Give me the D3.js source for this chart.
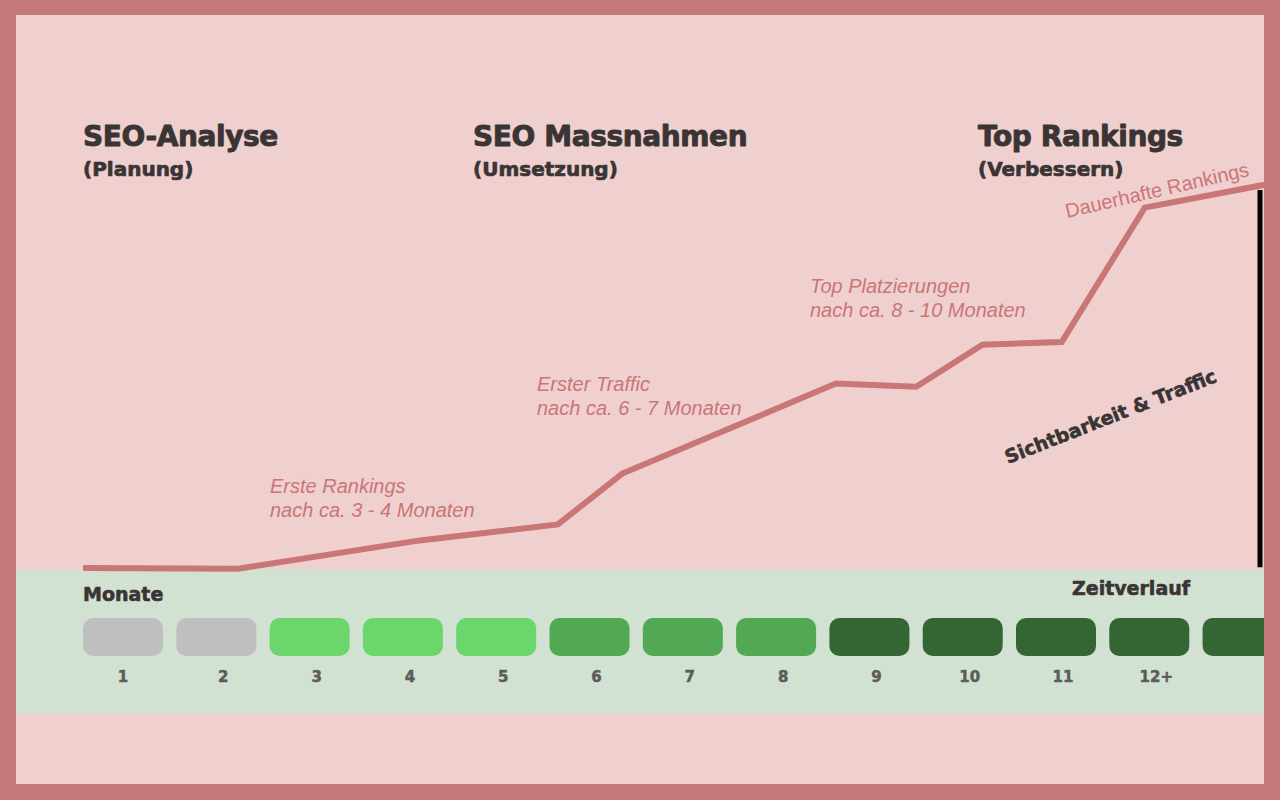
<!DOCTYPE html>
<html>
<head>
<meta charset="utf-8">
<script src="https://cdn.jsdelivr.net/npm/d3@7"></script>
<style>
  html, body { margin: 0; padding: 0; background: #c47a7a; }
  svg { display: block; }
</style>
</head>
<body>
<svg id="chart" width="1280" height="800"></svg>
<script>
// months shown as boxes in the time band
const months = [1, 2, 3, 4, 5, 6, 7, 8, 9, 10, 11, 12, 13]
const monthLabels = ['1', '2', '3', '4', '5', '6', '7', '8', '9', '10', '11', '12+', '']
const monthPhase = ['grau', 'grau', 'hell', 'hell', 'hell', 'mittel', 'mittel', 'mittel', 'dunkel', 'dunkel', 'dunkel', 'dunkel', 'dunkel']

// visibility curve: position in months, visibility 0..100
const curveMonth = [1.0, 2.66, 4.61, 6.09, 6.78, 9.07, 9.93, 10.64, 11.49, 12.38, 13.66]
const curveValue = [0, -0.2, 6.9, 10.9, 23.6, 46.1, 45.3, 55.8, 56.5, 90.1, 95.8]

const phases = [
  { title: 'SEO-Analyse', sub: '(Planung)', x: 83 },
  { title: 'SEO Massnahmen', sub: '(Umsetzung)', x: 473 },
  { title: 'Top Rankings', sub: '(Verbessern)', x: 978 }
]
const notes = [
  { lines: ['Erste Rankings', 'nach ca. 3 - 4 Monaten'], x: 270, y: 493 },
  { lines: ['Erster Traffic', 'nach ca. 6 - 7 Monaten'], x: 537, y: 391 },
  { lines: ['Top Platzierungen', 'nach ca. 8 - 10 Monaten'], x: 810, y: 293 }
]

const W = 1280, H = 800
const inner = { left: 16, top: 15, right: 1264, bottom: 784 }
const band = { top: 569, bottom: 713 }

const colors = {
  border: '#c47a7a',
  bg: '#f0d0cf',
  band: '#d2e2d2',
  line: '#c87676',
  dark: '#3a3434',
  num: '#5c5c5c',
  grau: '#bfbfbf',
  hell: '#6bd66b',
  mittel: '#53a853',
  dunkel: '#336633'
}

const svg = d3.select('#chart')
const headFont = '"DejaVu Sans", Verdana, sans-serif'
const noteFont = '"Liberation Sans", Arial, sans-serif'

// heavy label helper (DejaVu bold + thin outline to get close to the extra-bold look)
function heavy(sel, size, color, extra) {
  sel.attr('font-family', headFont)
    .attr('font-weight', 'bold')
    .attr('font-size', size)
    .attr('fill', color)
    .attr('stroke', color)
    .attr('stroke-width', extra)
    .attr('stroke-linejoin', 'round')
  return sel
}

svg.append('rect').attr('width', W).attr('height', H).attr('fill', colors.border)
svg.append('rect')
  .attr('x', inner.left).attr('y', inner.top)
  .attr('width', inner.right - inner.left).attr('height', inner.bottom - inner.top)
  .attr('fill', colors.bg)

svg.append('rect')
  .attr('x', inner.left).attr('y', band.top)
  .attr('width', inner.right - inner.left).attr('height', band.bottom - band.top)
  .attr('fill', colors.band)

const step = 93.3
const xBand = d3.scaleBand()
  .domain(months)
  .range([83, 83 + step * (months.length - 0.1425)])
  .paddingInner(0.1425)
  .paddingOuter(0)

const xMonth = d3.scaleLinear().domain([1, 14]).range([83, 83 + step * 13])
const y = d3.scaleLinear().domain([0, 100]).range([568, 168])

const clip = svg.append('clipPath').attr('id', 'innerClip')
clip.append('rect')
  .attr('x', inner.left).attr('y', inner.top)
  .attr('width', inner.right - inner.left).attr('height', inner.bottom - inner.top)

const plot = svg.append('g').attr('clip-path', 'url(#innerClip)')

// month boxes
plot.selectAll('rect.month')
  .data(months)
  .join('rect')
  .attr('class', 'month')
  .attr('x', d => xBand(d))
  .attr('y', 618)
  .attr('width', xBand.bandwidth())
  .attr('height', 38)
  .attr('rx', 10)
  .attr('fill', (d, i) => colors[monthPhase[i]])

heavy(plot.selectAll('text.month-label')
  .data(months)
  .join('text')
  .attr('class', 'month-label')
  .attr('x', d => xBand(d) + xBand.bandwidth() / 2 + (d === 1 ? 0 : 7))
  .attr('y', 682)
  .attr('text-anchor', 'middle'), 15, colors.num, 0.5)
  .text((d, i) => monthLabels[i])

heavy(plot.append('text').attr('x', 83).attr('y', 601), 19, colors.dark, 0.6)
  .text('Monate')

heavy(plot.append('text').attr('x', 1190).attr('y', 595).attr('text-anchor', 'end'), 19, colors.dark, 0.6)
  .text('Zeitverlauf')

// right axis bar
plot.append('line')
  .attr('x1', 1260).attr('x2', 1260)
  .attr('y1', y(94.5)).attr('y2', y(0.2))
  .attr('stroke', '#000').attr('stroke-width', 5)

// visibility curve
const pts = curveMonth.map((m, i) => [m, curveValue[i]])
plot.append('path')
  .datum(pts)
  .attr('fill', 'none')
  .attr('stroke', colors.line)
  .attr('stroke-width', 6)
  .attr('stroke-linejoin', 'miter')
  .attr('d', d3.line().x(d => xMonth(d[0])).y(d => y(d[1])))

// phase headings
const ph = plot.selectAll('g.phase').data(phases).join('g').attr('class', 'phase')
heavy(ph.append('text').attr('x', d => d.x).attr('y', 146), 28, colors.dark, 0.9)
  .attr('letter-spacing', -0.4)
  .text(d => d.title)
heavy(ph.append('text').attr('x', d => d.x).attr('y', 176), 20, colors.dark, 0.7)
  .text(d => d.sub)

// notes along the curve
const nt = plot.selectAll('text.note').data(notes).join('text')
  .attr('class', 'note')
  .attr('font-family', noteFont).attr('font-style', 'italic').attr('font-size', 20)
  .attr('fill', colors.line)
nt.selectAll('tspan').data(d => d.lines.map((l, i) => ({ l, i, x: d.x, y: d.y })))
  .join('tspan')
  .attr('x', d => d.x).attr('y', d => d.y + d.i * 24)
  .text(d => d.l)

plot.append('text')
  .attr('transform', 'translate(1067,218) rotate(-13)')
  .attr('font-family', noteFont).attr('font-size', 20)
  .attr('fill', colors.line)
  .text('Dauerhafte Rankings')

heavy(plot.append('text').attr('transform', 'translate(1008,464) rotate(-21.5)'), 19, colors.dark, 0.6)
  .text('Sichtbarkeit & Traffic')
</script>
</body>
</html>
